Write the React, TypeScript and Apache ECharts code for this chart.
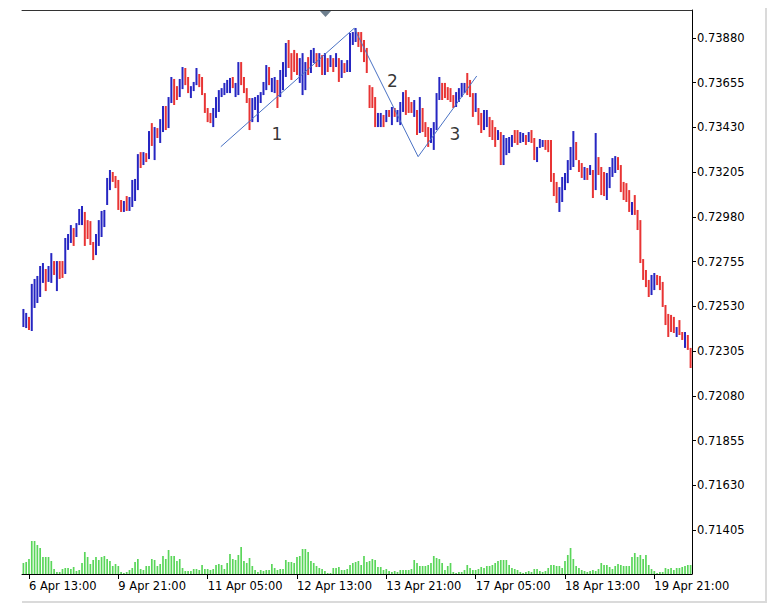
import React, { useEffect, useRef } from "react";
import * as echarts from "echarts";

// ---- data ----
const HIGH = [
  0.72517, 0.72497, 0.72477, 0.72643, 0.72668, 0.72683, 0.72733, 0.72748, 0.72718, 0.72733,
  0.72798, 0.72758, 0.72758, 0.72758, 0.72758, 0.72874, 0.72894, 0.72939, 0.72924, 0.72949,
  0.73020, 0.73035, 0.73005, 0.72964, 0.72959, 0.72854, 0.72894, 0.72964, 0.73010, 0.73015,
  0.73176, 0.73216, 0.73206, 0.73186, 0.73166, 0.73065, 0.73060, 0.73085, 0.73080, 0.73166,
  0.73171, 0.73296, 0.73306, 0.73306, 0.73301, 0.73412, 0.73452, 0.73432, 0.73427, 0.73472,
  0.73538, 0.73538, 0.73583, 0.73684, 0.73674, 0.73638, 0.73674, 0.73734, 0.73729, 0.73684,
  0.73638, 0.73659, 0.73729, 0.73699, 0.73684, 0.73603, 0.73528, 0.73503, 0.73528, 0.73583,
  0.73618, 0.73628, 0.73654, 0.73669, 0.73679, 0.73684, 0.73654, 0.73759, 0.73759, 0.73684,
  0.73628, 0.73578, 0.73578, 0.73583, 0.73593, 0.73608, 0.73659, 0.73744, 0.73734, 0.73679,
  0.73684, 0.73669, 0.73719, 0.73759, 0.73855, 0.73870, 0.73804, 0.73820, 0.73804, 0.73779,
  0.73804, 0.73759, 0.73784, 0.73820, 0.73830, 0.73804, 0.73804, 0.73794, 0.73804, 0.73779,
  0.73794, 0.73779, 0.73804, 0.73779, 0.73769, 0.73754, 0.73769, 0.73905, 0.73910, 0.73930,
  0.73910, 0.73910, 0.73870, 0.73830, 0.73643, 0.73633, 0.73583, 0.73503, 0.73503, 0.73493,
  0.73518, 0.73518, 0.73533, 0.73528, 0.73518, 0.73558, 0.73608, 0.73618, 0.73583, 0.73558,
  0.73568, 0.73518, 0.73583, 0.73528, 0.73457, 0.73432, 0.73427, 0.73457, 0.73603, 0.73684,
  0.73654, 0.73654, 0.73633, 0.73628, 0.73593, 0.73608, 0.73628, 0.73654, 0.73654, 0.73704,
  0.73669, 0.73603, 0.73603, 0.73528, 0.73503, 0.73518, 0.73518, 0.73483, 0.73467, 0.73432,
  0.73417, 0.73407, 0.73392, 0.73377, 0.73382, 0.73392, 0.73417, 0.73417, 0.73407, 0.73402,
  0.73392, 0.73407, 0.73417, 0.73377, 0.73332, 0.73372, 0.73367, 0.73367, 0.73367, 0.73367,
  0.73201, 0.73156, 0.73130, 0.73181, 0.73201, 0.73266, 0.73332, 0.73412, 0.73357, 0.73266,
  0.73251, 0.73231, 0.73226, 0.73241, 0.73216, 0.73402, 0.73281, 0.73231, 0.73206, 0.73201,
  0.73231, 0.73276, 0.73286, 0.73281, 0.73241, 0.73156, 0.73150, 0.73115, 0.73055, 0.73090,
  0.73015, 0.72964, 0.72768, 0.72713, 0.72663, 0.72688, 0.72698, 0.72688, 0.72683, 0.72653,
  0.72537, 0.72492, 0.72487, 0.72477, 0.72426, 0.72461, 0.72401, 0.72401, 0.72386, 0.72321,
];

const LOW = [
  0.72426, 0.72421, 0.72411, 0.72406, 0.72522, 0.72547, 0.72577, 0.72648, 0.72607, 0.72653,
  0.72648, 0.72688, 0.72607, 0.72668, 0.72673, 0.72693, 0.72814, 0.72849, 0.72834, 0.72879,
  0.72939, 0.72939, 0.72834, 0.72869, 0.72839, 0.72763, 0.72788, 0.72834, 0.72879, 0.72929,
  0.73040, 0.73115, 0.73156, 0.73125, 0.73015, 0.73005, 0.73005, 0.73010, 0.73010, 0.73030,
  0.73060, 0.73115, 0.73226, 0.73241, 0.73256, 0.73271, 0.73337, 0.73266, 0.73377, 0.73352,
  0.73407, 0.73417, 0.73427, 0.73553, 0.73543, 0.73568, 0.73583, 0.73623, 0.73643, 0.73603,
  0.73578, 0.73613, 0.73643, 0.73633, 0.73593, 0.73503, 0.73457, 0.73452, 0.73432, 0.73478,
  0.73508, 0.73583, 0.73593, 0.73603, 0.73603, 0.73628, 0.73583, 0.73593, 0.73643, 0.73603,
  0.73553, 0.73417, 0.73457, 0.73518, 0.73457, 0.73553, 0.73593, 0.73618, 0.73643, 0.73608,
  0.73603, 0.73528, 0.73583, 0.73618, 0.73684, 0.73729, 0.73669, 0.73709, 0.73694, 0.73654,
  0.73593, 0.73618, 0.73694, 0.73704, 0.73754, 0.73734, 0.73734, 0.73694, 0.73694, 0.73709,
  0.73734, 0.73709, 0.73734, 0.73659, 0.73679, 0.73704, 0.73709, 0.73709, 0.73845, 0.73860,
  0.73835, 0.73809, 0.73759, 0.73704, 0.73528, 0.73528, 0.73432, 0.73432, 0.73432, 0.73432,
  0.73457, 0.73483, 0.73442, 0.73483, 0.73457, 0.73442, 0.73508, 0.73493, 0.73503, 0.73503,
  0.73483, 0.73392, 0.73402, 0.73407, 0.73382, 0.73332, 0.73352, 0.73317, 0.73417, 0.73568,
  0.73568, 0.73578, 0.73568, 0.73558, 0.73528, 0.73533, 0.73558, 0.73583, 0.73603, 0.73593,
  0.73583, 0.73483, 0.73508, 0.73442, 0.73402, 0.73417, 0.73432, 0.73382, 0.73367, 0.73332,
  0.73367, 0.73241, 0.73241, 0.73291, 0.73301, 0.73332, 0.73352, 0.73342, 0.73352, 0.73357,
  0.73342, 0.73357, 0.73352, 0.73266, 0.73256, 0.73327, 0.73332, 0.73317, 0.73306, 0.73156,
  0.73085, 0.73050, 0.73005, 0.73055, 0.73115, 0.73150, 0.73216, 0.73231, 0.73266, 0.73206,
  0.73176, 0.73166, 0.73166, 0.73191, 0.73075, 0.73115, 0.73191, 0.73090, 0.73085, 0.73065,
  0.73125, 0.73181, 0.73201, 0.73216, 0.73105, 0.73065, 0.73055, 0.73005, 0.72990, 0.72990,
  0.72914, 0.72748, 0.72663, 0.72627, 0.72577, 0.72587, 0.72612, 0.72637, 0.72612, 0.72527,
  0.72436, 0.72376, 0.72401, 0.72396, 0.72376, 0.72386, 0.72361, 0.72321, 0.72311, 0.72220,
];

// u = bullish (blue) bar, d = bearish (red) bar
const BAR_DIRECTION = (
  "uuduuuuudu" + "ududduuudu" + "uudddduuuu" + "uudddduduu" + "uududududu" +
  "uduudduudd" + "uuuddddduu" + "uuuuuduudd" + "dduuuuuudu" + "uduuuddddu" +
  "uuduududud" + "udududuuuu" + "ddddddduud" + "ududuuuddd" + "ududdduuuu" +
  "ddddduuuud" + "ddudduuddd" + "uduuuudduu" + "dudduuuddd" + "dduuuuuudd" +
  "dudududddu" + "uuudddddud" + "ddddduuddd" + "dddduddudd"
).split("");

const VOLUME = [
  1100, 1200, 1500, 3300, 3300, 2900, 2600, 1700, 1700, 1700,
  1300, 500, 200, 200, 500, 600, 600, 500, 700, 300,
  400, 1100, 2200, 1700, 1000, 1400, 1700, 1400, 1700, 1800,
  1500, 1300, 800, 1000, 800, 200, 100, 200, 400, 600,
  1200, 1500, 500, 400, 800, 800, 1500, 1400, 800, 1000,
  1800, 1500, 2400, 1800, 1800, 1300, 1500, 600, 300, 300,
  300, 500, 500, 400, 900, 500, 500, 400, 500, 900,
  1000, 900, 500, 1100, 2000, 1500, 1400, 1900, 2700, 1300,
  1100, 1600, 800, 400, 200, 400, 300, 400, 400, 1000,
  600, 400, 500, 500, 1400, 1200, 1200, 1100, 1700, 1800,
  2500, 2500, 2200, 1300, 1100, 800, 600, 500, 300, 100,
  100, 600, 600, 700, 400, 400, 500, 900, 1100, 1200,
  1300, 900, 1800, 1200, 1300, 1500, 1400, 700, 700, 400,
  500, 300, 200, 300, 200, 400, 400, 400, 400, 500,
  1400, 1100, 800, 800, 800, 900, 1100, 1800, 1600, 1500,
  1100, 400, 800, 1100, 200, 100, 200, 200, 400, 900,
  600, 400, 400, 500, 700, 600, 800, 800, 900, 1100,
  1300, 1400, 1400, 1400, 900, 600, 500, 400, 200, 100,
  200, 300, 200, 500, 500, 300, 200, 300, 600, 900,
  900, 800, 800, 600, 1300, 1900, 2600, 1500, 800, 600,
  400, 300, 200, 300, 400, 300, 500, 1100, 900, 900,
  700, 500, 800, 1000, 900, 800, 800, 800, 1700, 2100,
  1700, 1900, 1500, 1900, 900, 500, 300, 100, 200, 200,
  600, 500, 600, 400, 600, 600, 700, 800, 900, 900,
];

const PRICE_TICKS = [
  0.71405, 0.7163, 0.71855, 0.7208, 0.72305, 0.7253, 0.72755, 0.7298, 0.73205, 0.7343, 0.73655, 0.7388,
];

const TIME_LABELS = [
  "6 Apr 13:00", "9 Apr 21:00", "11 Apr 05:00", "12 Apr 13:00",
  "13 Apr 21:00", "17 Apr 05:00", "18 Apr 13:00", "19 Apr 21:00",
];
const TIME_LABEL_BARS = [2, 34, 66, 98, 130, 162, 194, 226];

// hand-drawn trend lines (bar position, price)
const TREND_POINTS = [
  [70.7, 0.73333],
  [118.5, 0.73929],
  [141.4, 0.73283],
  [162.4, 0.73689],
];
const WAVE_LABELS = [
  [90.8, 0.73398, "1"],
  [132.2, 0.73665, "2"],
  [154.6, 0.73396, "3"],
];

const PRICE_MIN = 0.711837;
const PRICE_MAX = 0.740209;

const BLUE = "#2626c2";
const RED = "#e83434";
const FONT = "DejaVu Sans";

export default function App() {
  const ref = useRef<HTMLDivElement>(null);

  useEffect(() => {
    if (!ref.current) return;
    const chart = echarts.init(ref.current, undefined, { renderer: "svg" });
    const n = HIGH.length;
    const categories = HIGH.map((_, i) => String(i));
    const barData = HIGH.map((h, i) => [i, h, LOW[i], BAR_DIRECTION[i] === "u" ? 1 : 0]);
    const labelAt = (idx: number) => TIME_LABEL_BARS.indexOf(idx);

    chart.setOption({
      animation: false,
      backgroundColor: "#ffffff",
      grid: [
        { left: 22, top: 10, width: 670, height: 564 },
        { left: 22, top: 500, width: 670, height: 74 },
      ],
      xAxis: [
        {
          type: "category",
          gridIndex: 0,
          data: categories,
          boundaryGap: true,
          position: "bottom",
          axisLine: { show: true, onZero: false, lineStyle: { color: "#000", width: 1 } },
          axisTick: {
            show: true,
            alignWithLabel: true,
            length: 5,
            interval: (idx: number) => labelAt(idx) >= 0,
            lineStyle: { color: "#000" },
          },
          axisLabel: {
            show: true,
            interval: (idx: number) => labelAt(idx) >= 0,
            formatter: (_v: string, idx: number) => {
              const k = labelAt(idx);
              return k >= 0 ? TIME_LABELS[k] : "";
            },
            align: "left",
            margin: 6,
            color: "#000",
            fontSize: 11.5,
            fontFamily: FONT,
          },
          splitLine: { show: false },
        },
        {
          type: "value",
          gridIndex: 0,
          position: "top",
          min: -0.5,
          max: n - 0.5,
          axisLine: { show: true, onZero: false, lineStyle: { color: "#333", width: 1 } },
          axisTick: { show: false },
          axisLabel: { show: false },
          splitLine: { show: false },
        },
        {
          type: "category",
          gridIndex: 1,
          data: categories,
          show: false,
        },
      ],
      yAxis: [
        {
          type: "value",
          gridIndex: 0,
          position: "right",
          min: PRICE_MIN,
          max: PRICE_MAX,
          axisLine: { show: true, onZero: false, lineStyle: { color: "#000", width: 1 } },
          axisTick: {
            show: true,
            inside: false,
            length: 4,
            customValues: PRICE_TICKS,
            lineStyle: { color: "#000" },
          },
          axisLabel: {
            show: true,
            customValues: PRICE_TICKS,
            formatter: (v: number) => v.toFixed(5),
            margin: 5,
            color: "#000",
            fontSize: 11.5,
            fontFamily: FONT,
          },
          splitLine: { show: false },
        },
        {
          type: "value",
          gridIndex: 1,
          min: 0,
          max: 7400,
          show: false,
        },
      ],
      series: [
        {
          type: "custom",
          name: "AUDUSD,H1",
          xAxisIndex: 0,
          yAxisIndex: 0,
          data: barData,
          encode: { x: 0, y: [1, 2] },
          silent: true,
          renderItem: (_params: any, api: any) => {
            const i = api.value(0);
            const hi = api.coord([i, api.value(1)]);
            const lo = api.coord([i, api.value(2)]);
            const up = api.value(3) === 1;
            return {
              type: "line",
              shape: { x1: hi[0], y1: hi[1], x2: lo[0], y2: lo[1] },
              style: { stroke: up ? BLUE : RED, lineWidth: 2 },
            };
          },
        },
        {
          type: "bar",
          name: "Volume",
          xAxisIndex: 2,
          yAxisIndex: 1,
          data: VOLUME,
          barWidth: 1.7,
          itemStyle: { color: "#5ad65a" },
          silent: true,
        },
        {
          type: "line",
          name: "trend",
          xAxisIndex: 1,
          yAxisIndex: 0,
          data: TREND_POINTS,
          symbol: "none",
          lineStyle: { color: "#4a72c4", width: 1 },
          z: 5,
          silent: true,
        },
        {
          type: "scatter",
          name: "waves",
          xAxisIndex: 1,
          yAxisIndex: 0,
          data: WAVE_LABELS,
          symbolSize: 1,
          itemStyle: { color: "rgba(0,0,0,0)" },
          label: {
            show: true,
            position: "inside",
            formatter: (p: any) => p.data[2],
            color: "#000",
            fontSize: 17,
            fontFamily: FONT,
          },
          z: 6,
          silent: true,
        },
      ],
      graphic: [
        {
          type: "polygon",
          shape: { points: [[319, 10], [332, 10], [325.5, 17]] },
          style: { fill: "#6e7f8e" },
          silent: true,
        },
        {
          type: "line",
          shape: { x1: 766, y1: 8, x2: 766, y2: 602 },
          style: { stroke: "#dadada", lineWidth: 2 },
          silent: true,
        },
        {
          type: "line",
          shape: { x1: 22, y1: 602, x2: 767, y2: 602 },
          style: { stroke: "#dadada", lineWidth: 2 },
          silent: true,
        },
      ],
    });

    return () => chart.dispose();
  }, []);

  return (
    <div
      ref={ref}
      style={{ position: "fixed", left: 0, top: 0, width: 772, height: 609, background: "#fff" }}
    />
  );
}
